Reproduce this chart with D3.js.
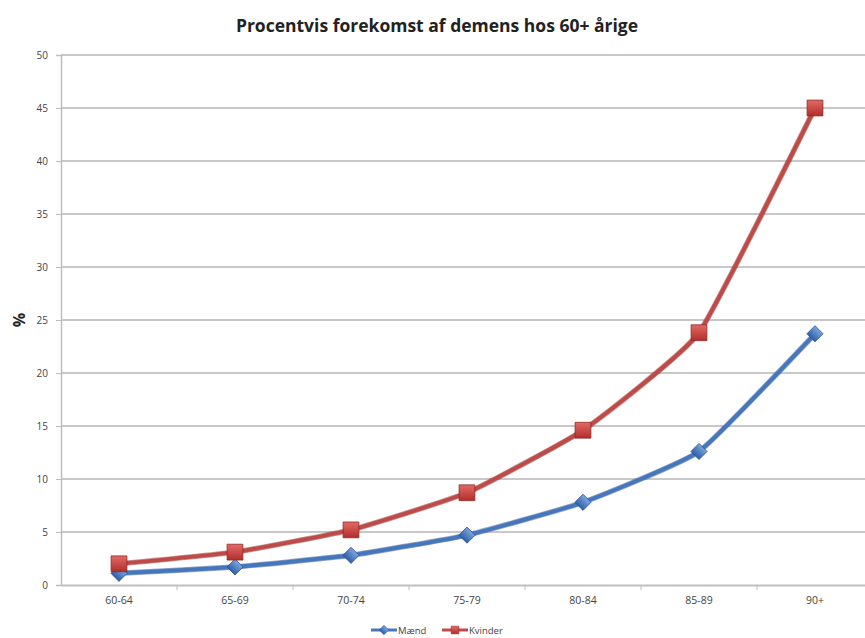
<!DOCTYPE html>
<html><head><meta charset="utf-8">
<script src="https://cdn.jsdelivr.net/npm/d3@7"></script>
<style>body{margin:0;background:#fff}svg{display:block}</style>
</head><body>
<svg id="c" width="865" height="638"></svg>
<script>
const categories = ["60-64","65-69","70-74","75-79","80-84","85-89","90+"];
const maend = [1.1, 1.7, 2.8, 4.7, 7.8, 12.6, 23.7];
const kvinder = [2.0, 3.1, 5.2, 8.7, 14.6, 23.8, 45.0];
const yTicks = [0,5,10,15,20,25,30,35,40,45,50];
const title = "Procentvis forekomst af demens hos 60+ årige";

(function(){
const svg = d3.select("#c");
const mLeft = 61, mRight = 873, mTop = 55, mBottom = 585;
const x = d3.scaleBand().domain(categories).range([mLeft, mRight]).padding(0);
const y = d3.scaleLinear().domain([0,50]).range([mBottom, mTop]);
const cx = d => x(d) + x.bandwidth()/2;

const defs = svg.append("defs");
const gb = defs.append("linearGradient").attr("id","gb").attr("x1",0).attr("y1",0).attr("x2",0).attr("y2",1);
gb.append("stop").attr("offset","0%").attr("stop-color","#7aa6e0");
gb.append("stop").attr("offset","100%").attr("stop-color","#2f5fa8");
const gr = defs.append("linearGradient").attr("id","gr").attr("x1",0).attr("y1",0).attr("x2",0).attr("y2",1);
gr.append("stop").attr("offset","0%").attr("stop-color","#e46a66");
gr.append("stop").attr("offset","100%").attr("stop-color","#b02e2a");

// gridlines
svg.append("g").selectAll("line").data(yTicks.filter(d=>d>0)).join("line")
  .attr("x1", mLeft).attr("x2", 865).attr("y1", d=>y(d)).attr("y2", d=>y(d))
  .attr("stroke","#c8c8c8").attr("stroke-width",2);

// y axis
const ya = svg.append("g").attr("transform",`translate(${mLeft},0)`)
  .call(d3.axisLeft(y).tickValues(yTicks).tickSize(5).tickPadding(8));
ya.select(".domain").attr("stroke","#bdbdbd").attr("stroke-width",1.5);
ya.selectAll(".tick line").attr("stroke","#bdbdbd");
ya.selectAll("text").attr("font-family","Open Sans, sans-serif").attr("font-size",10).attr("fill","#444");

// x axis
const xa = svg.append("g").attr("transform",`translate(0,${mBottom})`)
  .call(d3.axisBottom(x).tickSize(0).tickPadding(12));
xa.select(".domain").attr("stroke","#c0c0c0").attr("stroke-width",2);
xa.selectAll("text").attr("font-family","Open Sans, sans-serif").attr("font-size",10.5).attr("fill","#444");
svg.append("g").selectAll("line").data(categories.slice(1)).join("line")
  .attr("x1", d=>x(d)).attr("x2", d=>x(d)).attr("y1", mBottom).attr("y2", mBottom+5)
  .attr("stroke","#bdbdbd");

// lines
const line = d3.line().x((d,i)=>cx(categories[i])).y(d=>y(d)).curve(d3.curveCardinal.tension(0.6));
function marker(sel, shape, size){
  const rot = shape === "diamond";
  sel.attr("d", d3.symbol().type(d3.symbolSquare).size(size)())
     .attr("transform", function(){ return d3.select(this).attr("transform") + (rot ? " rotate(45)" : ""); });
}
function drawSeries(vals, color, dark, shape, size, grad){
  svg.append("path").datum(vals).attr("d", line).attr("fill","none")
    .attr("stroke", dark).attr("stroke-width",5.5).attr("stroke-opacity",0.5);
  svg.append("path").datum(vals).attr("d", line).attr("fill","none")
    .attr("stroke", color).attr("stroke-width",4);
  svg.append("g").selectAll("path").data(vals).join("path")
    .attr("transform",(d,i)=>`translate(${cx(categories[i])},${y(d)})`)
    .call(marker, shape, size)
    .attr("fill",`url(#${grad})`).attr("stroke",dark).attr("stroke-width",0.8);
}
drawSeries(maend, "#4677bd", "#2c5390", "diamond", 130, "gb");
drawSeries(kvinder, "#be4b48", "#8c2a27", "square", 250, "gr");

// title
svg.append("text").attr("x",437).attr("y",32).attr("text-anchor","middle")
  .attr("font-family","Open Sans, sans-serif").attr("font-weight","bold").attr("font-size",17.5).attr("fill","#222")
  .text(title);
// y label
svg.append("text").attr("transform","translate(25,320) rotate(-90)").attr("text-anchor","middle")
  .attr("font-family","Open Sans, sans-serif").attr("font-weight","bold").attr("font-size",16).attr("fill","#222")
  .text("%");

// legend
const ly = 630;
const leg = [{name:"Mænd", color:"#4677bd", dark:"#2c5390", shape:"diamond", size:45, grad:"gb", x:371},
             {name:"Kvinder", color:"#be4b48", dark:"#8c2a27", shape:"square", size:60, grad:"gr", x:442}];
const lg = svg.append("g");
leg.forEach(l=>{
  lg.append("line").attr("x1",l.x).attr("x2",l.x+26).attr("y1",ly).attr("y2",ly).attr("stroke",l.color).attr("stroke-width",3);
  lg.append("path").attr("transform",`translate(${l.x+13},${ly})`).call(marker, l.shape, l.size)
    .attr("fill",`url(#${l.grad})`).attr("stroke",l.dark).attr("stroke-width",0.5);
  lg.append("text").attr("x",l.x+27).attr("y",ly+3.5).attr("font-family","Open Sans, sans-serif").attr("font-size",9.5)
    .attr("fill","#444").text(l.name);
});
})();
</script>
</body></html>
